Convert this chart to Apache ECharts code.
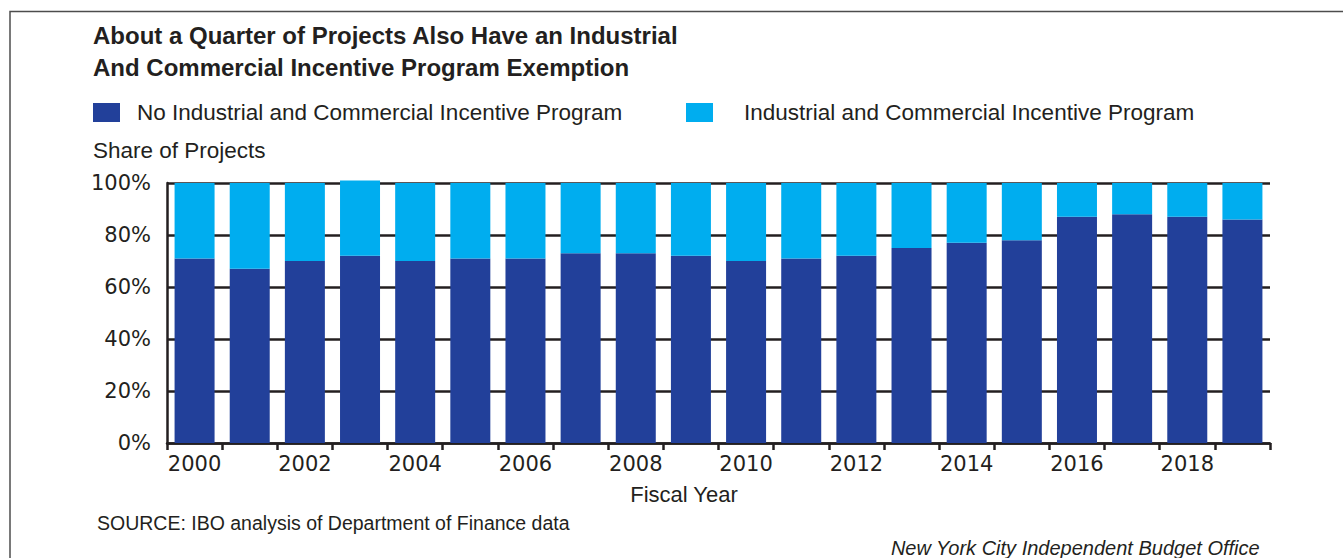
<!DOCTYPE html>
<html>
<head>
<meta charset="utf-8">
<script src="https://cdn.jsdelivr.net/npm/echarts@6/dist/echarts.min.js"></script>
<style>
  html, body { margin: 0; padding: 0; background: #ffffff; }
  #chart { width: 1343px; height: 558px; }
</style>
</head>
<body>
<div id="chart"></div>
<script>
// Fiscal years shown on the category axis
const years = ['2000','2001','2002','2003','2004','2005','2006','2007','2008','2009',
               '2010','2011','2012','2013','2014','2015','2016','2017','2018','2019'];
// Share of projects (%) without an ICIP exemption
const noIcip = [71, 67, 70, 72, 70, 71, 71, 73, 73, 72, 70, 71, 72, 75, 77, 78, 87, 88, 87, 86];
// Share of projects (%) with an ICIP exemption (rounded shares; 2003 sums to 101)
const withIcip = [29, 33, 30, 29, 30, 29, 29, 27, 27, 28, 30, 29, 28, 25, 23, 22, 13, 12, 13, 14];
// Value-axis ticks
const yTicks = [0, 20, 40, 60, 80, 100];

const seriesNames = ['No Industrial and Commercial Incentive Program',
                     'Industrial and Commercial Incentive Program'];
const darkBlue = '#22409a';
const lightBlue = '#00adef';
const ink = '#231f20';
const textFont = '"Liberation Sans", Arial, sans-serif';
const tickFont = '"DejaVu Sans", "Liberation Sans", sans-serif';

const chart = echarts.init(document.getElementById('chart'), null, { renderer: 'svg' });

chart.setOption({
  animation: false,
  backgroundColor: '#ffffff',
  title: {
    text: 'About a Quarter of Projects Also Have an Industrial\nAnd Commercial Incentive Program Exemption',
    left: 93,
    top: 19,
    padding: 0,
    textStyle: {
      fontFamily: textFont,
      fontWeight: 'bold',
      fontSize: 24,
      lineHeight: 32,
      color: ink
    }
  },
  legend: [
    {
      data: [seriesNames[0]],
      left: 88, top: 96,
      itemWidth: 27, itemHeight: 19,
      icon: 'rect',
      selectedMode: false,
      textStyle: { fontFamily: textFont, fontSize: 22.5, color: ink, padding: [0, 0, 0, 12] }
    },
    {
      data: [seriesNames[1]],
      left: 681, top: 96,
      itemWidth: 27, itemHeight: 19,
      icon: 'rect',
      selectedMode: false,
      textStyle: { fontFamily: textFont, fontSize: 22.5, color: ink, padding: [0, 0, 0, 26] }
    }
  ],
  grid: { left: 167, right: 73, top: 183, bottom: 115, containLabel: false },
  xAxis: {
    type: 'category',
    data: years,
    axisLine: { lineStyle: { color: ink, width: 2.5 } },
    axisTick: { show: true, interval: 0, length: 7, lineStyle: { color: ink, width: 2.5 } },
    axisLabel: { interval: 1, fontFamily: tickFont, fontSize: 21, color: ink, margin: 10 },
    splitLine: { show: false }
  },
  yAxis: {
    type: 'value',
    min: yTicks[0],
    max: yTicks[yTicks.length - 1],
    interval: 20,
    axisLine: { show: true, lineStyle: { color: ink, width: 2.5 } },
    axisTick: { show: false },
    axisLabel: { formatter: '{value}%', fontFamily: tickFont, fontSize: 21, color: ink, margin: 16 },
    splitLine: { show: true, lineStyle: { color: ink, width: 2.5 } }
  },
  series: [
    {
      name: seriesNames[0],
      type: 'bar',
      stack: 'share',
      data: noIcip,
      barWidth: 40,
      clip: false,
      itemStyle: { color: darkBlue },
      z: 3
    },
    {
      name: seriesNames[1],
      type: 'bar',
      stack: 'share',
      data: withIcip,
      barWidth: 40,
      clip: false,
      itemStyle: { color: lightBlue },
      z: 3
    }
  ],
  graphic: [
    // frame along the top and left edges
    {
      type: 'polyline',
      shape: { points: [[10, 558], [10, 11.5], [1343, 11.5]] },
      style: { stroke: '#4d4d4d', lineWidth: 1.5, fill: null },
      silent: true
    },
    {
      type: 'text',
      left: 93, top: 139,
      style: { text: 'Share of Projects', font: '22.5px ' + textFont, fill: ink }
    },
    {
      type: 'text',
      x: 684, y: 494,
      style: { text: 'Fiscal Year', font: '22px ' + textFont, fill: ink, align: 'center', verticalAlign: 'middle' }
    },
    {
      type: 'text',
      left: 97, top: 513,
      style: { text: 'SOURCE: IBO analysis of Department of Finance data', font: '19.5px ' + textFont, fill: ink }
    },
    {
      type: 'text',
      right: 83, top: 538,
      style: { text: 'New York City Independent Budget Office', font: 'italic 20px ' + textFont, fill: ink }
    }
  ]
});
</script>
</body>
</html>
